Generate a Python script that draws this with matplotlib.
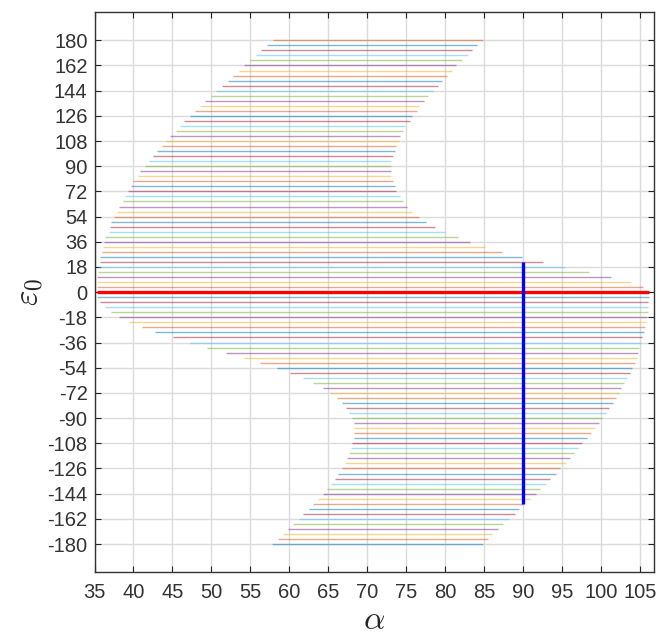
import matplotlib
matplotlib.use("Agg")
import matplotlib.pyplot as plt

# epsilon_0 values (bottom to top), 0 excluded (drawn as red reference line)
eps0 = [-180, -176.4, -172.8, -169.2, -165.6, -162, -158.4, -154.8, -151.2, -147.6,
        -144, -140.4, -136.8, -133.2, -129.6, -126, -122.4, -118.8, -115.2, -111.6,
        -108, -104.4, -100.8, -97.2, -93.6, -90, -86.4, -82.8, -79.2, -75.6,
        -72, -68.4, -64.8, -61.2, -57.6, -54, -50.4, -46.8, -43.2, -39.6,
        -36, -32.4, -28.8, -25.2, -21.6, -18, -14.4, -10.8, -7.2, -3.6,
        3.6, 7.2, 10.8, 14.4, 18, 21.6, 25.2, 28.8, 32.4, 36,
        39.6, 43.2, 46.8, 50.4, 54, 57.6, 61.2, 64.8, 68.4, 72,
        75.6, 79.2, 82.8, 86.4, 90, 93.6, 97.2, 100.8, 104.4, 108,
        111.6, 115.2, 118.8, 122.4, 126, 129.6, 133.2, 136.8, 140.4, 144,
        147.6, 151.2, 154.8, 158.4, 162, 165.6, 169.2, 172.8, 176.4, 180]

alpha_min = [57.8, 58.5, 59.2, 59.8, 60.5, 61.2, 61.8, 62.5, 63.0, 63.7,
             64.3, 64.9, 65.4, 65.9, 66.3, 66.8, 67.2, 67.4, 67.7, 67.9,
             68.1, 68.3, 68.3, 68.3, 68.3, 68.1, 67.7, 67.3, 66.8, 66.1,
             65.2, 64.3, 63.0, 61.8, 60.1, 58.4, 56.3, 54.2, 51.9, 49.5,
             47.2, 45.1, 42.8, 41.1, 39.4, 38.2, 37.1, 36.3, 35.7, 35.3,
             35.3, 35.3, 35.3, 35.5, 35.5, 35.7, 35.7, 35.9, 36.1, 36.2,
             36.4, 36.8, 37.0, 37.1, 37.5, 37.9, 38.2, 38.6, 38.9, 39.3,
             39.7, 40.0, 40.6, 40.9, 41.5, 42.0, 42.5, 43.0, 43.6, 44.2,
             44.7, 45.4, 46.0, 46.5, 47.2, 47.9, 48.5, 49.2, 49.9, 50.6,
             51.4, 52.1, 52.8, 53.5, 54.2, 55.0, 55.7, 56.4, 57.2, 57.9]

alpha_max = [84.8, 85.5, 86.0, 86.8, 87.45, 88.2, 88.9, 89.5, 90.0, 90.9,
             91.65, 92.2, 92.9, 93.5, 94.2, 94.7, 95.5, 96.0, 96.5, 97.05,
             97.6, 98.15, 98.7, 99.2, 99.7, 100.1, 100.6, 101.0, 101.5, 101.9,
             102.3, 102.6, 103.0, 103.3, 103.7, 104.0, 104.3, 104.6, 104.7, 104.9,
             105.1, 105.3, 105.5, 105.7, 105.8, 105.9, 106.0, 106.0, 106.0, 106.1,
             105.4, 103.8, 101.3, 98.4, 95.4, 92.5, 89.8, 87.3, 85.1, 83.2,
             81.6, 80.0, 78.7, 77.6, 76.7, 75.8, 75.1, 74.6, 74.2, 73.7,
             73.5, 73.3, 73.1, 73.1, 73.1, 73.1, 73.3, 73.5, 73.7, 74.05,
             74.2, 74.6, 74.9, 75.5, 75.8, 76.4, 76.7, 77.3, 77.8, 78.4,
             79.05, 79.6, 80.2, 80.9, 81.4, 82.1, 82.9, 83.4, 84.15, 84.9]

# reference lines
red_eps = 0
red_alpha = [35.3, 106.2]
blue_alpha = 90
blue_eps = [-151.2, 21.6]

xticks = list(range(35, 110, 5))
yticks = list(range(-180, 181, 18))

colors = [(0, 0.447, 0.741), (0.85, 0.325, 0.098), (0.929, 0.694, 0.125),
          (0.494, 0.184, 0.556), (0.466, 0.674, 0.188), (0.301, 0.745, 0.933),
          (0.635, 0.078, 0.184)]

plt.rcParams['font.family'] = ['Liberation Sans', 'DejaVu Sans']
plt.rcParams['mathtext.fontset'] = 'cm'

fig = plt.figure(figsize=(6.59, 6.35), dpi=100)
ax = fig.add_axes([0.1434, 0.0992, 0.9924 - 0.1434, 0.9806 - 0.0992])

for i, (e, a0, a1) in enumerate(zip(eps0, alpha_min, alpha_max)):
    ax.plot([a0, a1], [e, e], color=colors[i % 7], lw=1.0, alpha=0.5,
            solid_capstyle='butt')

ax.plot(red_alpha, [red_eps, red_eps], color='red', lw=2.4, solid_capstyle='butt')
ax.plot([blue_alpha, blue_alpha], blue_eps, color='blue', lw=2.4, solid_capstyle='butt')

ax.set_xlim(35, 106.8)
ax.set_ylim(-200, 200)
ax.set_xticks(xticks)
ax.set_yticks(yticks)
ax.set_xticklabels([str(t) for t in xticks])
ax.set_yticklabels([str(t) for t in yticks])
ax.grid(True, color=(0.86, 0.86, 0.86), lw=1.0)
ax.set_axisbelow(True)
ax.tick_params(direction='in', top=True, right=True, length=4, width=0.8,
               colors=(0.15, 0.15, 0.15), labelsize=14.5, labelcolor=(0.2, 0.2, 0.2))
ax.tick_params(axis='x', pad=8)
ax.tick_params(axis='y', pad=5)
for s in ax.spines.values():
    s.set_color((0.2, 0.2, 0.2))
    s.set_linewidth(1.0)

ax.set_xlabel(r'$\alpha$', fontsize=24, color=(0.15, 0.15, 0.15), labelpad=2)
ax.set_ylabel(r'$\varepsilon_0$', fontsize=24, color=(0.15, 0.15, 0.15), labelpad=2)

fig.savefig('out.png', dpi=100)
